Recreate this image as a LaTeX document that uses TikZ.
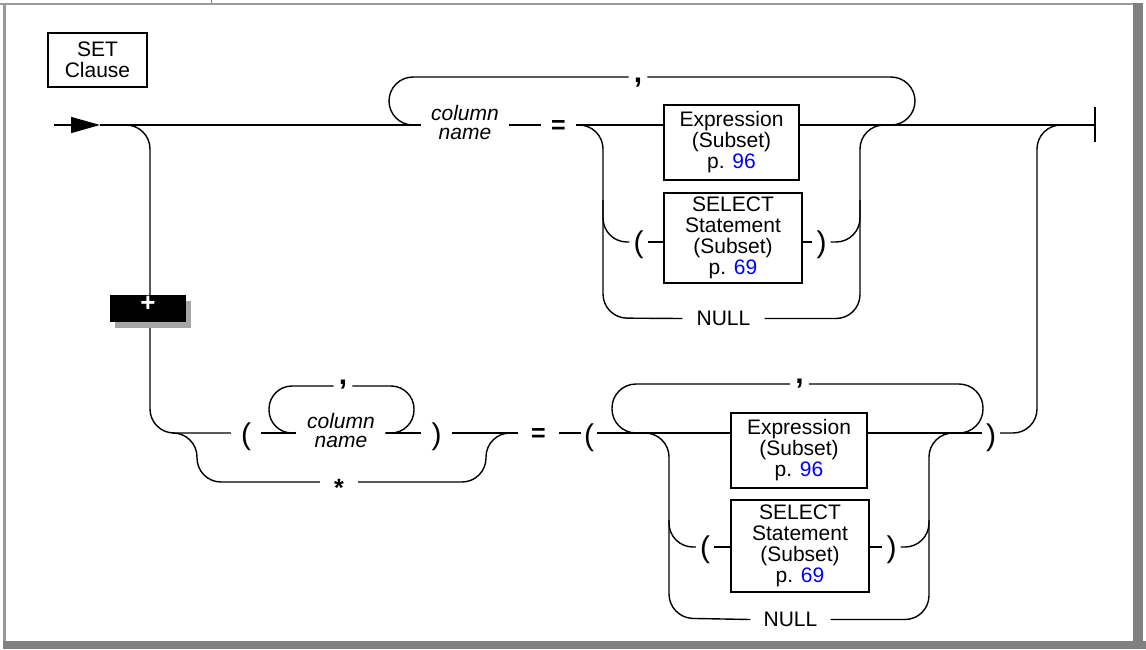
\documentclass[tikz,border=0pt]{standalone}
\usepackage{fontspec}
\setmainfont{Liberation Sans}
\usetikzlibrary{arrows.meta,positioning,shadows}
\definecolor{linkblue}{HTML}{0000FF}
\definecolor{framegray}{HTML}{808080}
\definecolor{edgegray}{HTML}{9A9A9A}
\definecolor{shadowgray}{HTML}{A6A6A6}
\newcommand{\pref}[1]{\textcolor{linkblue}{#1}}
\newcommand{\rfont}{\fontsize{21}{21}\selectfont}

\begin{document}
\begin{tikzpicture}[x=1pt,y=-1pt,
    rail/.style={line width=1.4pt,rounded corners=24pt},
    railbox/.style={draw,line width=2.8pt,inner sep=0pt,align=center,font=\rfont},
    term/.style={inner ysep=0pt,inner xsep=6pt,font=\rfont},
    opmark/.style={inner ysep=0pt,inner xsep=6pt,font=\fontsize{25}{25}\selectfont\bfseries},
    paren/.style={inner ysep=0pt,inner xsep=4pt,font=\fontsize{30}{30}\selectfont},
    sepmark/.style={inner ysep=0pt,inner xsep=5pt,font=\fontsize{30}{30}\selectfont\bfseries},
    ident/.style={inner ysep=0pt,align=center,font=\fontsize{21}{19}\selectfont\itshape}]
  \useasboundingbox (0,0) rectangle (1146,649);
  % page frame
  \fill[edgegray] (0,2.5) rectangle (1133,5);
  \fill[edgegray] (3,2.5) rectangle (6,641);
  \fill[framegray] (1133,2.5) rectangle (1143,649);
  \fill[framegray] (3,641) rectangle (1146,649);
  \draw[framegray,line width=1pt] (211,0) -- (211,3);

  % rows
  \coordinate (rowA) at (0,125);
  \coordinate (topA) at (0,77);
  \coordinate (selrowA) at (0,242);
  \coordinate (rowB) at (0,433);
  \coordinate (topB) at (0,386);
  \coordinate (topC) at (0,384);
  \coordinate (starrow) at (0,482);
  \coordinate (selrowB) at (0,547);
  \coordinate (start) at (54,125);
  \coordinate (tipA) at (100,125);
  \coordinate (endA) at (1095,125);

  \node[railbox,minimum width=99pt,minimum height=54pt] (setclause) at (97.5,60) {SET\\Clause};

  % first form
  \node[ident,inner xsep=10pt] (colnameA) at (465,122) {column\\name};
  \node[opmark,inner xsep=10pt] (eqA) at (558.5,127) {=};
  \node[sepmark] (commaA) at (638,83) {,};
  \node[railbox,minimum width=135pt,minimum height=75pt] (exprA) at (731.5,142.5) {Expression\\(Subset)\\p. \pref{96}};
  \node[railbox,minimum width=138pt,minimum height=90pt] (selectA) at (733,238) {SELECT\\Statement\\(Subset)\\p. \pref{69}};
  \node[paren] (lparA) at (638.5,245) {(};
  \node[paren] (rparA) at (821.5,245) {)};
  \node[term,inner xsep=14pt] (nullA) at (723.5,318.5) {NULL};

  % second form
  \node[paren,inner xsep=10pt] (lparB) at (246,437) {(};
  \node[ident,inner xsep=11pt] (colnameB) at (341,430) {column\\name};
  \node[sepmark] (commaB) at (343,385) {,};
  \node[paren,inner xsep=10pt] (rparB) at (436.5,437) {)};
  \node[opmark,inner xsep=14pt] (star) at (339,488) {*};
  \node[opmark,inner xsep=13pt] (eqB) at (538.5,435) {=};
  \node[paren,inner xsep=3pt] (lparC) at (589,438) {(};
  \node[sepmark] (commaC) at (799.5,384) {,};
  \node[railbox,minimum width=136pt,minimum height=75pt] (exprB) at (799,450.5) {Expression\\(Subset)\\p. \pref{96}};
  \node[paren] (rparC) at (991,438) {)};
  \node[railbox,minimum width=138pt,minimum height=92pt] (selectB) at (800,546) {SELECT\\Statement\\(Subset)\\p. \pref{69}};
  \node[paren] (lparD) at (705,550) {(};
  \node[paren] (rparD) at (891.5,550) {)};
  \node[term,inner xsep=13pt] (nullB) at (790.5,619.5) {NULL};

  % main line
  \draw[line width=1.4pt,-{Triangle[length=29pt,width=16pt]}] (start) -- (tipA);
  \draw[rail] (tipA) -- (colnameA.west |- rowA);
  \draw[rail] (colnameA.east |- rowA) -- (eqA.west |- rowA);
  \draw[rail] (eqA.east |- rowA) -- (exprA.west |- rowA);
  \draw[rail] (exprA.east |- rowA) -- (endA);
  \draw[rail] ([yshift=18pt]endA) -- ([yshift=-17pt]endA);
  \draw[rail] (colnameA.west |- rowA) -| (389,77) -- (commaA.west |- topA);
  \draw[rail] (commaA.east |- topA) -| (915,125) -- (880,125);
  % value choices
  \draw[rail] (eqA.east |- rowA) -| (603,318) -- (nullA.west);
  \draw[rail] (603,200) |- (lparA.west |- selrowA);
  \draw[rail] (lparA.east |- selrowA) -- (selectA.west |- selrowA);
  \draw[rail] (selectA.east |- selrowA) -- (rparA.west |- selrowA);
  \draw[rail] (rparA.east |- selrowA) -| (860,200);
  \draw[rail] (nullA.east) -| (860,125) -- (890,125);

  % lower path
  \draw[rail] (tipA) -| (150,433) -- (lparB.west |- rowB);
  \draw[rail] (172,433) -| (197,482) -- (star.west |- starrow);
  \draw[rail] (star.east |- starrow) -| (486,433) -- (eqB.west |- rowB);
  \draw[rail] (lparB.east |- rowB) -- (colnameB.west |- rowB);
  \draw[rail,rounded corners=23pt] (colnameB.west |- rowB) -| (269,386) -- (commaB.west |- topB);
  \draw[rail,rounded corners=23pt] (commaB.east |- topB) -| (414,433) -- (385,433);
  \draw[rail] (colnameB.east |- rowB) -- (rparB.west |- rowB);
  \draw[rail] (rparB.east |- rowB) -- (eqB.west |- rowB);
  \draw[rail] (eqB.east |- rowB) -- (lparC.west |- rowB);
  \draw[rail] (lparC.east |- rowB) -- (exprB.west |- rowB);
  \draw[rail] (645,433) -| (612,384) -- (commaC.west |- topC);
  \draw[rail] (commaC.east |- topC) -| (983,433) -- (955,433);
  \draw[rail] (exprB.east |- rowB) -- (rparC.west |- rowB);
  \draw[rail] (rparC.east |- rowB) -| (1037,125) -- (endA);
  \draw[rail] (645,433) -| (669,618) -- (nullB.west);
  \draw[rail] (669,520) |- (lparD.west |- selrowB);
  \draw[rail] (lparD.east |- selrowB) -- (selectB.west |- selrowB);
  \draw[rail] (selectB.east |- selrowB) -- (rparD.west |- selrowB);
  \draw[rail] (rparD.east |- selrowB) -| (929,520);
  \draw[rail] (nullB.east) -| (929,433) -- (960,433);

  % extension marker
  \node[fill=black,minimum width=76pt,minimum height=27pt,inner sep=0pt,
        drop shadow={shadow xshift=5pt,shadow yshift=-6pt,fill=shadowgray,opacity=1}] (plusbox) at (148,308.5) {};
  \node[text=white,font=\fontsize{26}{26}\selectfont\bfseries,inner sep=0pt] (plusmark) at ([yshift=4.5pt]plusbox.center) {+};
\end{tikzpicture}
\end{document}
